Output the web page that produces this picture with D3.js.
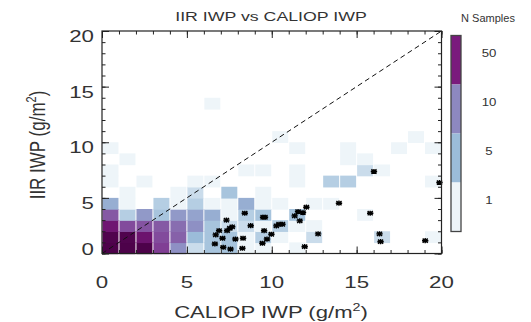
<!DOCTYPE html>
<html>
<head>
<meta charset="utf-8">
<script src="https://cdn.jsdelivr.net/npm/d3@7"></script>
<style>
  body { margin: 0; background: #fff; }
  svg { display: block; }
  text { font-family: "Liberation Sans", Arial, sans-serif; fill: #333; }
</style>
</head>
<body>
<div id="chart"></div>
<script>
const xTicks = [0, 5, 10, 15, 20];
const yTicks = [0, 5, 10, 15, 20];
const legendSteps = [50, 10, 5, 1];
const legendColors = ["#7a1a7d", "#8d88c0", "#9bbcd9", "#eef5f9"];

// [caliop bin, iir bin, samples]
const cells = [
  [0,0,140],[0,1,130],[0,2,65],[0,3,20],[0,4,6],[0,6,1],[0,7,1],[0,9,1],
  [1,0,140],[1,1,130],[1,2,25],[1,3,3],[1,4,1],[1,5,1],[1,8,1],
  [2,0,140],[2,1,70],[2,2,22],[2,3,8],[2,6,1],
  [3,0,30],[3,1,25],[3,2,20],[3,3,4],[3,4,3],
  [4,0,9],[4,1,18],[4,2,15],[4,3,8],[4,4,1],[4,5,1],
  [5,0,2],[5,1,5],[5,2,9],[5,3,7],[5,4,3],[5,5,2],[5,6,1],
  [6,0,4],[6,1,4],[6,2,4],[6,3,6],[6,4,1],[6,6,1],[6,13,1],
  [7,0,4],[7,1,4],[7,2,2],[7,3,1],[7,4,1],[7,5,4],
  [8,0,1],[8,1,1],[8,2,2],[8,3,3],[8,4,6],[8,7,1],
  [9,0,1],[9,1,3],[9,2,1],[9,3,4],[9,4,1],[9,5,1],[9,7,1],
  [10,1,1],[10,2,3],[10,4,1],[10,10,1],
  [11,0,1],[11,2,1],[11,3,4],[11,6,1],[11,7,1],[11,9,1],
  [12,1,2],[12,2,1],[12,4,1],
  [13,4,1],[13,6,3],
  [14,6,3],[14,8,1],[14,9,1],
  [15,3,1],[15,7,2],[15,8,1],
  [16,1,2],[16,7,1],
  [17,9,1],
  [18,10,1],
  [19,1,1],[19,6,1],[19,9,1]
];

// individual retrievals (asterisks)
const starX = [6.65, 6.7, 6.9, 7.1, 7.14, 7.33, 7.37, 7.53, 7.67, 7.57, 7.86, 8.31, 8.27, 8.41, 8.76,
  9.45, 9.49, 9.6, 9.55, 9.72, 9.98, 10.27, 10.43, 10.63, 11.35, 11.55, 11.65, 11.84, 12.04, 11.94,
  12.73, 13.96, 15.8, 16.02, 16.35, 16.41, 19.04, 19.88];
const starY = [0.86, 1.67, 2.05, 1.37, 0.56, 3.0, 2.05, 2.27, 2.4, 0.4, 1.3, 1.37, 0.47, 3.62, 2.5,
  0.92, 3.26, 3.26, 2.05, 1.3, 1.73, 2.48, 2.63, 2.63, 3.38, 3.77, 2.93, 3.68, 4.16, 0.61,
  1.76, 4.52, 3.62, 7.37, 1.76, 1.06, 1.15, 6.38];

const width = 531, height = 322;
const plot = { left: 102, right: 441.5, top: 31, bottom: 253.5 };

const svg = d3.select('#chart')
  .append('svg')
  .attr('width', width)
  .attr('height', height);

const x = d3.scaleLinear().domain([0, 20]).range([plot.left, plot.right]);
const y = d3.scaleLinear().domain([0, 20]).range([plot.bottom, plot.top]);

const color = d3.scaleLog()
  .domain([1, 5, 10, 50, 150])
  .range(["#eef5f9", "#9bbcd9", "#8c88c0", "#7b1c80", "#4a0046"])
  .clamp(true);

// the picture is stretched sideways, so is its lettering
function label(sel, px, py, sx) {
  return sel.attr('transform', `translate(${px},${py}) scale(${sx},1)`);
}

// histogram cells (rows overlap a hair so no seams show)
svg.append('g')
  .selectAll('rect')
  .data(cells)
  .enter()
  .append('rect')
  .attr('x', d => x(d[0]) + 0.5)
  .attr('y', d => y(d[1] + 1))
  .attr('width', x(1) - x(0) - 1)
  .attr('height', y(0) - y(1) + 0.7)
  .attr('fill', d => color(d[2]));

// one-to-one line
svg.append('line')
  .attr('x1', x(0)).attr('y1', y(0))
  .attr('x2', x(20)).attr('y2', y(20))
  .attr('stroke', '#111')
  .attr('stroke-width', 1)
  .attr('stroke-dasharray', '5,3.5');

// asterisks
const star = 'M-3.2,0H3.2M0,-2.6V2.6M-2.6,-2.1L2.6,2.1M-2.6,2.1L2.6,-2.1';
svg.append('g')
  .selectAll('path')
  .data(starX)
  .enter()
  .append('path')
  .attr('d', star)
  .attr('transform', (d, i) => `translate(${x(d)},${y(starY[i])})`)
  .attr('stroke', '#000')
  .attr('stroke-width', 1.4)
  .attr('fill', 'none');

// frame and ticks (inward on all four sides)
const minor = d3.range(0, 21);
const axes = [
  [d3.axisBottom(x), `translate(0,${plot.bottom})`],
  [d3.axisTop(x), `translate(0,${plot.top})`],
  [d3.axisLeft(y), `translate(${plot.left},0)`],
  [d3.axisRight(y), `translate(${plot.right},0)`]
];
axes.forEach(([ax, tr]) => {
  svg.append('g').attr('transform', tr)
    .call(ax.tickValues(minor).tickSize(-3.5).tickSizeOuter(0).tickFormat(''))
    .call(g => g.select('.domain').remove());
  svg.append('g').attr('transform', tr)
    .call(ax.tickValues(xTicks).tickSize(-7).tickSizeOuter(0).tickFormat(''))
    .call(g => g.select('.domain').remove());
});
svg.selectAll('.tick line').attr('stroke', '#222').attr('stroke-width', 1);

svg.append('rect')
  .attr('x', plot.left).attr('y', plot.top)
  .attr('width', plot.right - plot.left)
  .attr('height', plot.bottom - plot.top)
  .attr('fill', 'none')
  .attr('stroke', '#222')
  .attr('stroke-width', 1.2);

// tick labels
svg.append('g').selectAll('text')
  .data(xTicks).enter().append('text')
  .attr('text-anchor', 'middle')
  .style('font-size', '16.5px')
  .text(d => d)
  .each(function (d) { label(d3.select(this), x(d), 288, 1.35); });

svg.append('g').selectAll('text')
  .data(yTicks).enter().append('text')
  .attr('text-anchor', 'end')
  .style('font-size', '16.5px')
  .text(d => d)
  .each(function (d) { label(d3.select(this), 94, Math.min(y(d) + 5, plot.bottom - 5) + 6, 1.35); });

// titles
const title = svg.append('text')
  .attr('text-anchor', 'middle')
  .style('font-size', '12px')
  .text('IIR IWP vs CALIOP IWP');
label(title, 271, 20.5, 1.48);

const xTitle = svg.append('text')
  .attr('text-anchor', 'middle')
  .style('font-size', '17px');
xTitle.append('tspan').text('CALIOP IWP (g/m');
xTitle.append('tspan').attr('dy', -7).style('font-size', '11px').text('2');
xTitle.append('tspan').attr('dy', 7).text(')');
label(xTitle, 271, 318, 1.3);

const yTitle = svg.append('text')
  .attr('text-anchor', 'middle')
  .style('font-size', '17px')
  .attr('transform', 'translate(45,145) scale(1.3,1) rotate(-90)');
yTitle.append('tspan').text('IIR IWP (g/m');
yTitle.append('tspan').attr('dy', -7).style('font-size', '11px').text('2');
yTitle.append('tspan').attr('dy', 7).text(')');

// colour key
const band = d3.scaleBand().domain(legendSteps).range([35.5, 231.5]);
const key = svg.append('g');
key.selectAll('rect')
  .data(legendSteps).enter().append('rect')
  .attr('x', 451)
  .attr('y', d => band(d))
  .attr('width', 10)
  .attr('height', band.bandwidth())
  .attr('fill', (d, i) => legendColors[i]);
key.append('rect')
  .attr('x', 451).attr('y', 35.5)
  .attr('width', 10).attr('height', 196)
  .attr('fill', 'none')
  .attr('stroke', '#444')
  .attr('stroke-width', 1.3);
key.selectAll('text')
  .data(legendSteps).enter().append('text')
  .attr('text-anchor', 'middle')
  .style('font-size', '11px')
  .text(d => d)
  .each(function (d) { label(d3.select(this), 489, band(d) + 21.7, 1.2); });

const keyTitle = svg.append('text')
  .attr('text-anchor', 'middle')
  .style('font-size', '11px')
  .text('N Samples');
label(keyTitle, 488, 22, 1.0);
</script>
</body>
</html>
